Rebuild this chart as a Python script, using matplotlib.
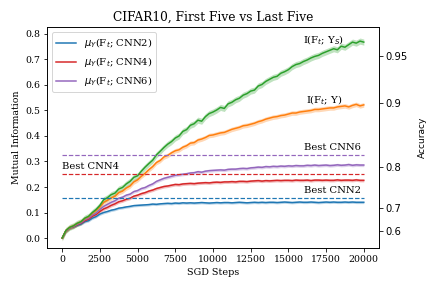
import numpy as np
import matplotlib.pyplot as plt

plt.rcParams["font.family"] = "DejaVu Serif"
plt.rcParams["font.size"] = 10

# sgd steps, one sample every 250 steps
steps = np.arange(0, 20001, 250)

# I(F_t; Y_S)
mi_ys = [0.000, 0.030, 0.042, 0.048, 0.058, 0.064, 0.078, 0.085, 0.100, 0.112,
         0.128, 0.150, 0.158, 0.170, 0.176, 0.192, 0.198, 0.212, 0.222, 0.238,
         0.244, 0.262, 0.278, 0.292, 0.305, 0.326, 0.340, 0.355, 0.368, 0.378,
         0.392, 0.400, 0.418, 0.425, 0.442, 0.448, 0.462, 0.458, 0.476, 0.488,
         0.494, 0.502, 0.512, 0.508, 0.526, 0.532, 0.542, 0.548, 0.560, 0.566,
         0.576, 0.580, 0.596, 0.602, 0.614, 0.622, 0.630, 0.634, 0.646, 0.652,
         0.660, 0.672, 0.680, 0.684, 0.692, 0.698, 0.706, 0.712, 0.716, 0.724,
         0.730, 0.736, 0.742, 0.738, 0.752, 0.748, 0.758, 0.768, 0.764, 0.772,
         0.768]
# I(F_t; Y)
mi_y = [0.000, 0.030, 0.042, 0.048, 0.057, 0.064, 0.076, 0.083, 0.097, 0.108,
        0.122, 0.140, 0.148, 0.157, 0.164, 0.178, 0.184, 0.196, 0.204, 0.220,
        0.228, 0.242, 0.254, 0.268, 0.280, 0.296, 0.304, 0.318, 0.324, 0.334,
        0.342, 0.346, 0.356, 0.362, 0.372, 0.374, 0.384, 0.388, 0.394, 0.402,
        0.404, 0.408, 0.412, 0.414, 0.420, 0.426, 0.430, 0.434, 0.440, 0.442,
        0.446, 0.450, 0.456, 0.460, 0.466, 0.470, 0.474, 0.476, 0.480, 0.482,
        0.486, 0.490, 0.490, 0.494, 0.496, 0.498, 0.500, 0.504, 0.504, 0.506,
        0.508, 0.510, 0.510, 0.514, 0.516, 0.518, 0.514, 0.520, 0.524, 0.518,
        0.522]
cnn6 = [0.000, 0.028, 0.040, 0.046, 0.054, 0.060, 0.072, 0.078, 0.090, 0.098,
        0.112, 0.124, 0.132, 0.140, 0.146, 0.156, 0.160, 0.168, 0.172, 0.182,
        0.186, 0.194, 0.198, 0.206, 0.212, 0.222, 0.228, 0.234, 0.238, 0.242,
        0.246, 0.248, 0.250, 0.252, 0.255, 0.256, 0.260, 0.258, 0.262, 0.264,
        0.265, 0.266, 0.267, 0.266, 0.269, 0.270, 0.270, 0.272, 0.273, 0.272,
        0.275, 0.276, 0.278, 0.277, 0.280, 0.279, 0.281, 0.280, 0.282, 0.281,
        0.283, 0.282, 0.284, 0.283, 0.283, 0.285, 0.284, 0.286, 0.284, 0.285,
        0.286, 0.284, 0.285, 0.287, 0.285, 0.286, 0.288, 0.285, 0.287, 0.286,
        0.286]
cnn4 = [0.000, 0.028, 0.040, 0.045, 0.052, 0.058, 0.068, 0.074, 0.085, 0.092,
        0.104, 0.114, 0.120, 0.128, 0.134, 0.142, 0.146, 0.152, 0.156, 0.164,
        0.168, 0.174, 0.178, 0.184, 0.188, 0.194, 0.198, 0.202, 0.204, 0.207,
        0.210, 0.209, 0.212, 0.213, 0.214, 0.213, 0.215, 0.216, 0.217, 0.216,
        0.218, 0.219, 0.218, 0.220, 0.220, 0.221, 0.220, 0.222, 0.222, 0.221,
        0.223, 0.224, 0.225, 0.223, 0.225, 0.224, 0.225, 0.226, 0.225, 0.226,
        0.226, 0.225, 0.227, 0.226, 0.226, 0.227, 0.225, 0.227, 0.227, 0.226,
        0.227, 0.226, 0.226, 0.228, 0.226, 0.227, 0.227, 0.226, 0.228, 0.226,
        0.226]
cnn2 = [0.000, 0.028, 0.040, 0.044, 0.050, 0.055, 0.064, 0.068, 0.078, 0.084,
        0.094, 0.100, 0.104, 0.109, 0.112, 0.117, 0.119, 0.122, 0.124, 0.127,
        0.128, 0.129, 0.130, 0.131, 0.133, 0.132, 0.134, 0.135, 0.136, 0.135,
        0.137, 0.136, 0.138, 0.137, 0.138, 0.137, 0.138, 0.139, 0.138, 0.137,
        0.138, 0.139, 0.138, 0.139, 0.139, 0.138, 0.139, 0.140, 0.139, 0.138,
        0.139, 0.140, 0.139, 0.140, 0.139, 0.140, 0.140, 0.139, 0.140, 0.141,
        0.140, 0.139, 0.140, 0.141, 0.140, 0.140, 0.141, 0.140, 0.139, 0.140,
        0.141, 0.140, 0.141, 0.140, 0.140, 0.141, 0.140, 0.141, 0.140, 0.140,
        0.140]
# spread of the runs (half width of shaded band)
spread = {"ys": 0.012, "y": 0.009, "cnn6": 0.006, "cnn4": 0.006, "cnn2": 0.005}

best_vals = [0.155, 0.25, 0.325]  # best CNN2, CNN4, CNN6
acc_ticks = [0.6, 0.7, 0.8, 0.9, 0.95]

fig, ax = plt.subplots(figsize=(6, 4), dpi=72)
fig.subplots_adjust(left=0.109, right=0.877, bottom=0.139, top=0.906)

series = [
    (cnn2, "cnn2", "tab:blue", r"$\mu_Y$(F$_t$; CNN2)"),
    (cnn4, "cnn4", "tab:red", r"$\mu_Y$(F$_t$; CNN4)"),
    (cnn6, "cnn6", "tab:purple", r"$\mu_Y$(F$_t$; CNN6)"),
    (mi_y, "y", "tab:orange", None),
    (mi_ys, "ys", "tab:green", None),
]
for vals, key, col, lab in series:
    v = np.array(vals)
    ax.fill_between(steps, v - spread[key], v + spread[key], color=col, alpha=0.3, lw=0)
    ax.plot(steps, v, color=col, lw=1.5, label=lab)

for b, col in zip(best_vals, ["tab:blue", "tab:red", "tab:purple"]):
    ax.hlines(b, 0, 20000, colors=col, linestyles="--", lw=1.2)

ax.text(19800, 0.337, "Best CNN6", ha="right", va="bottom")
ax.text(0, 0.262, "Best CNN4", ha="left", va="bottom")
ax.text(19800, 0.168, "Best CNN2", ha="right", va="bottom")
ax.text(18700, 0.776, r"I(F$_t$; Y$_S$)", ha="right", va="center")
ax.text(18600, 0.54, r"I(F$_t$; Y)", ha="right", va="center")

ax.set_xlim(-1000, 21000)
ax.set_ylim(-0.039, 0.827)
ax.set_xticks(np.arange(0, 20001, 2500))
ax.set_yticks(np.arange(0, 0.81, 0.1))
ax.tick_params(labelsize=9.4)
ax.set_xlabel("SGD Steps", fontsize=9.6)
ax.set_ylabel("Mutual Information", fontsize=9.4)
ax.set_title("CIFAR10, First Five vs Last Five", fontsize=12.2)
ax.legend(loc="upper left", fontsize=10)

# accuracy axis: binary task, MI = 1 - H2(error)
ax2 = ax.twinx()
ax2.set_ylim(ax.get_ylim())
err = 1 - np.array(acc_ticks)
pos = 1 + err * np.log2(err) + (1 - err) * np.log2(1 - err)
ax2.set_yticks(pos)
ax2.set_yticklabels([str(a) for a in acc_ticks], family="DejaVu Sans", fontsize=10)
ax2.set_ylabel("Accuracy", family="DejaVu Sans", fontsize=9, labelpad=10)

fig.savefig("out.png", dpi=72)
